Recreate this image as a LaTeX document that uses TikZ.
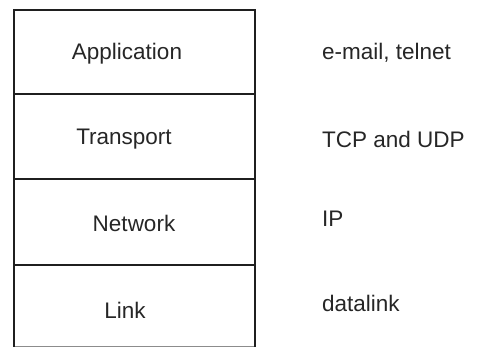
\documentclass[tikz,border=0pt]{standalone}
\usepackage{fontspec}
\setmainfont{Liberation Sans}
\begin{document}
\begin{tikzpicture}[x=1pt,y=-1pt,
  layer/.style={draw=black!88, line width=2pt, minimum width=241pt, inner sep=0pt, outer sep=0pt, anchor=north west},
  lbl/.style={inner sep=0pt, text=black!85, font=\fontsize{22.5}{26}\selectfont}]
\useasboundingbox (0,0) rectangle (479,347);
% protocol stack layers
\node[layer, minimum height=84pt] (app) at (13.5,10) {};
\node[layer, minimum height=85pt] (trans) at (app.south west) {};
\node[layer, minimum height=86pt] (net) at (trans.south west) {};
\node[layer, minimum height=82pt, draw=black!45] (link) at (net.south west) {};
% redraw the shared divider and sides of the bottom layer in full strength
\draw[black!88, line width=2pt] (link.south west) -- (link.north west) -- (link.north east) -- (link.south east);
% layer names
\node[lbl, anchor=base] (tapp) at (127,60) {Application};
\node[lbl, anchor=base] (ttrans) at (124,145) {Transport};
\node[lbl, anchor=base] (tnet) at (134,232) {Network};
\node[lbl, anchor=base] (tlink) at (125,318) {Link};
% examples for each layer
\node[lbl, anchor=base west] (eapp) at (322,60) {e-mail, telnet};
\node[lbl, anchor=base west] (etrans) at (322,148) {TCP and UDP};
\node[lbl, anchor=base west] (enet) at (322,227) {IP};
\node[lbl, anchor=base west] (elink) at (322,312) {datalink};
\end{tikzpicture}
\end{document}
